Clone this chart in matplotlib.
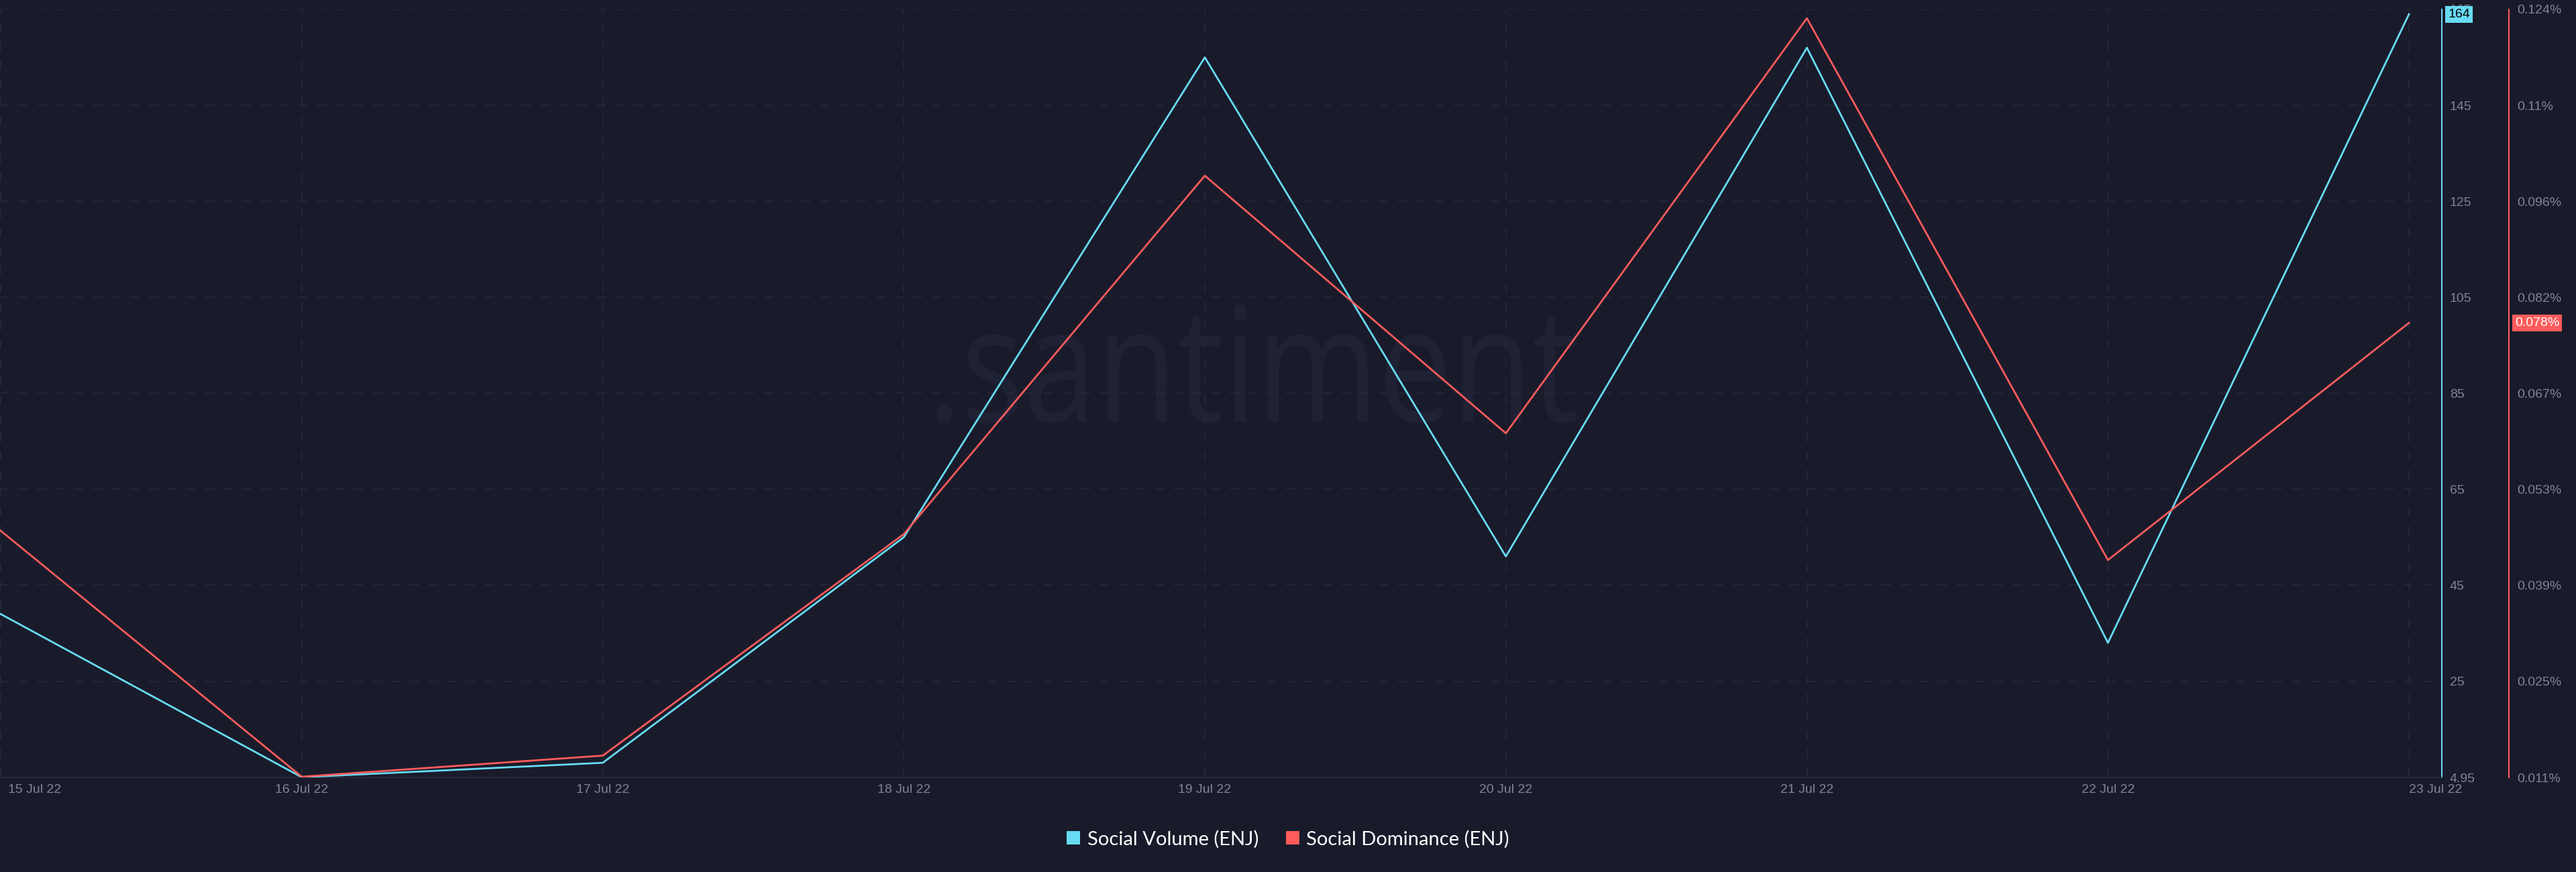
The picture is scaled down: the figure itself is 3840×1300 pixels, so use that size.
import numpy as np
import matplotlib
matplotlib.use('Agg')
import matplotlib.pyplot as plt
from matplotlib.lines import Line2D
from matplotlib.textpath import TextPath
from matplotlib.patches import PathPatch
from matplotlib.font_manager import FontProperties
from matplotlib.transforms import Affine2D, ScaledTranslation

plt.rcParams['font.family'] = ['Liberation Sans', 'DejaVu Sans']
plt.rcParams['lines.scale_dashes'] = False

# data
dates = ['15 Jul 22', '16 Jul 22', '17 Jul 22', '18 Jul 22', '19 Jul 22',
         '20 Jul 22', '21 Jul 22', '22 Jul 22', '23 Jul 22']
social_volume = [39, 5, 8, 55, 155, 51, 157, 33, 164]
social_dominance = [0.0473, 0.0112, 0.0143, 0.0468, 0.0994, 0.0616, 0.1225, 0.0430, 0.0778]
volume_ticks = [4.95, 25, 45, 65, 85, 105, 125, 145, 165]
vol_lim = (4.95, 165)
dom_lim = (0.0111, 0.1238)

bg = '#191b2b'
grid_c = '#262a3b'
tick_c = '#7d8599'
cyan = '#68dbf4'
red = '#ff5b5b'

W, H = 3840, 1300
fig = plt.figure(figsize=(W / 100, H / 100), dpi=100, facecolor=bg)
fig.subplots_adjust(left=0, right=3640 / W, bottom=141 / H, top=1286 / H)
ax = fig.add_subplot(111)
ax.set_facecolor(bg)
ax2 = ax.twinx()

x = np.arange(len(dates))
ax.plot(x, social_volume, color=cyan, lw=2.0, zorder=3)
ax2.plot(x, social_dominance, color=red, lw=2.0, zorder=3)

ax.set_xlim(-1 / 449, 3641 / 449)
ax.set_ylim(*vol_lim)
ax2.set_ylim(*dom_lim)

# grid
ax.grid(True, color=grid_c, linestyle=(0, (10, 10)), linewidth=1.1)
ax.set_axisbelow(True)

# spines
for s in ['top', 'left']:
    ax.spines[s].set_visible(False)
ax.spines['bottom'].set_color('#2a2e3f')
ax.spines['bottom'].set_linewidth(1.1)
ax.spines['right'].set_color(cyan)
ax.spines['right'].set_linewidth(1.5)
for s in ['top', 'left', 'bottom']:
    ax2.spines[s].set_visible(False)
ax2.spines['right'].set_position(('outward', 72))
ax2.spines['right'].set_color(red)
ax2.spines['right'].set_linewidth(1.5)

# left series ticks shown on right
ax.yaxis.tick_right()
ax.set_yticks(volume_ticks, ['4.95'] + [str(int(v)) for v in volume_ticks[1:]])
ax.tick_params(axis='y', length=0, pad=8.6, labelsize=14, labelcolor=tick_c)

# dominance ticks at the same heights
frac = (np.array(volume_ticks) - vol_lim[0]) / (vol_lim[1] - vol_lim[0])
dom_ticks = dom_lim[0] + frac * (dom_lim[1] - dom_lim[0])
dom_labels = [f"{v:.3f}".rstrip('0') + '%' for v in dom_ticks]
ax2.set_yticks(dom_ticks, dom_labels)
ax2.tick_params(axis='y', length=0, pad=8.6, labelsize=14, labelcolor=tick_c)

ax.set_xticks(x, dates)
ax.tick_params(axis='x', length=0, pad=7, labelsize=14, labelcolor=tick_c)
xl = ax.get_xticklabels()
xl[0].set_ha('left')
xl[0].set_transform(xl[0].get_transform() + ScaledTranslation(0.11, 0, fig.dpi_scale_trans))
xl[-1].set_ha('left')

# last value boxes
ax.annotate(str(social_volume[-1]), xy=(1, social_volume[-1]),
            xycoords=('axes fraction', 'data'), xytext=(6.5, 0),
            textcoords='offset points', ha='left', va='center', fontsize=14,
            color='black', zorder=10, annotation_clip=False,
            bbox=dict(boxstyle='square,pad=0.2', fc=cyan, ec='none'))
ax2.annotate(f"{social_dominance[-1]:.3f}%", xy=(1, social_dominance[-1]),
             xycoords=('axes fraction', 'data'), xytext=(78.5, 0),
             textcoords='offset points', ha='left', va='center', fontsize=14,
             color='white', zorder=10, annotation_clip=False,
             bbox=dict(boxstyle='square,pad=0.2', fc=red, ec='none'))

# watermark
tp = TextPath((0, 0), '.santiment', size=1, prop=FontProperties(family='Open Sans'))
ext = tp.get_extents()
sx = (2349 - 1396) / ext.width
sy = (847 - 668) / ext.height
tr = (Affine2D().translate(-ext.x0, -ext.y0).scale(sx, sy).translate(1396, 668)
      .scale(1 / W, 1 / H) + fig.transFigure)
ax.add_patch(PathPatch(tp, transform=tr, fc='#1f2234', ec='none', zorder=0.5))

# legend
handles = [Line2D([], [], marker='s', linestyle='none', markersize=14, mew=0,
                  color=cyan, label='Social Volume (ENJ)'),
           Line2D([], [], marker='s', linestyle='none', markersize=14, mew=0,
                  color=red, label='Social Dominance (ENJ)')]
fig.legend(handles=handles, loc='center', bbox_to_anchor=(0.5, 1 - 1251 / H), ncol=2,
           frameon=False, prop={'family': 'Lato', 'size': 21}, labelcolor='#ffffff',
           handlelength=0.7, handletextpad=0.35, columnspacing=1.4)

fig.savefig('out.png', dpi=100, facecolor=bg)
